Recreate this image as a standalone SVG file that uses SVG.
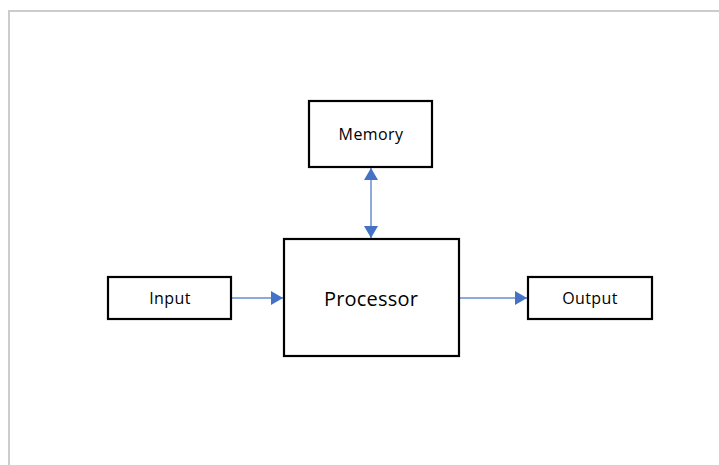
<svg xmlns="http://www.w3.org/2000/svg" width="719" height="465" viewBox="0 0 719 465">
<style>
.box{fill:#fff;stroke:#000;stroke-width:2.2}
.lbl{font-family:"Open Sans","Noto Sans",sans-serif;font-size:16px;letter-spacing:0.4px;fill:#000;text-anchor:middle}
.big{font-size:20px;letter-spacing:0.2px}
.conn{stroke:#8eaadb;stroke-width:2;fill:none}
</style>
<defs>
<marker id="ah" viewBox="0 0 12 14" refX="12" refY="7" markerWidth="12" markerHeight="14" markerUnits="userSpaceOnUse" orient="auto-start-reverse">
<path d="M0,0 L12,7 L0,14 Z" fill="#4472c4"/>
</marker>
</defs>
<rect x="0" y="0" width="719" height="465" fill="#fff"/>
<path d="M9,465 V11 H719" fill="none" stroke="#cccccc" stroke-width="2"/>
<g id="connectors">
<line class="conn" x1="371" y1="168" x2="371" y2="238" marker-start="url(#ah)" marker-end="url(#ah)"/>
<line class="conn" x1="232" y1="298" x2="283" y2="298" marker-end="url(#ah)"/>
<line class="conn" x1="459" y1="298" x2="527" y2="298" marker-end="url(#ah)"/>
</g>
<g id="memory"><rect class="box" x="309" y="101" width="123" height="66"/><text class="lbl" x="371" y="140">Memory</text></g>
<g id="processor"><rect class="box" x="284" y="239" width="175" height="117"/><text class="lbl big" x="371" y="306">Processor</text></g>
<g id="input"><rect class="box" x="108" y="277" width="123" height="42"/><text class="lbl" x="170" y="304">Input</text></g>
<g id="output"><rect class="box" x="528" y="277" width="124" height="42"/><text class="lbl" x="590" y="304">Output</text></g>
</svg>
